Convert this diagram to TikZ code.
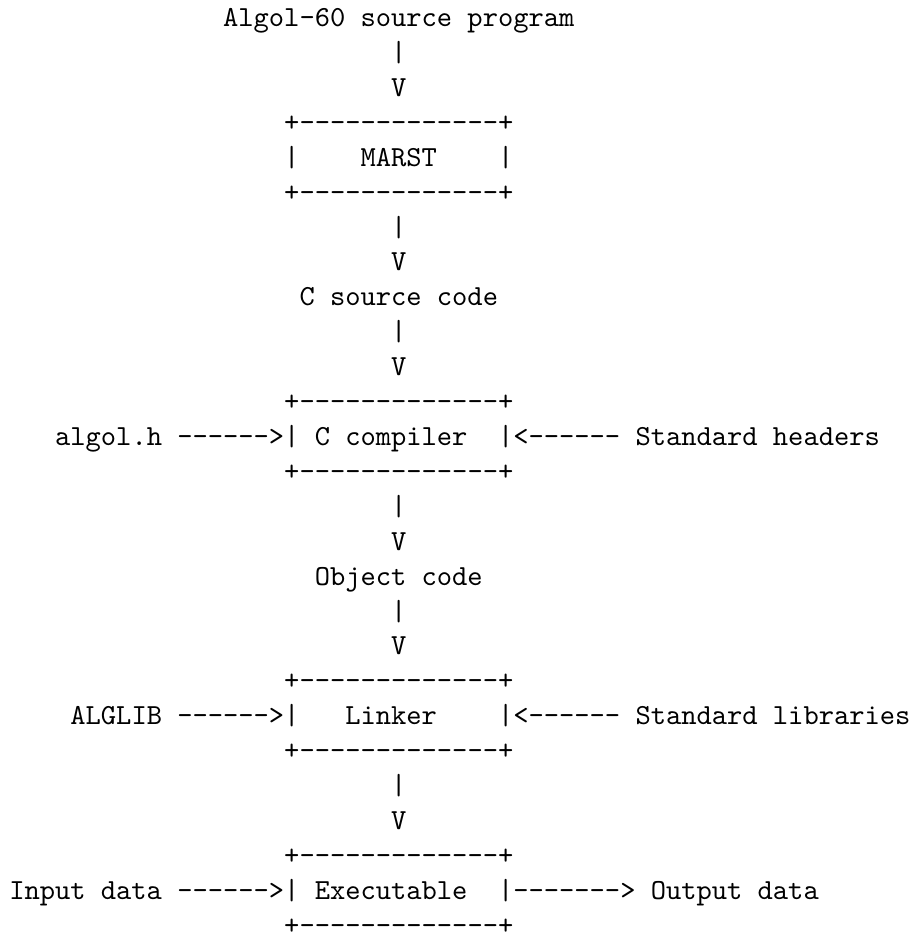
\documentclass[tikz,border=0pt]{standalone}
\begin{document}
\begin{tikzpicture}[x=5.25pt,y=12pt,
    asc/.style={font=\ttfamily, anchor=base west, inner sep=0pt, outer sep=0pt}]
  \useasboundingbox (-0.61,0.76) rectangle (59.3,-26.08);
  % top of the chain
  \node[asc] (src) at (14,0) {Algol-60 source program};
  \node[asc] (marst) at (18,-4) {|~~~~MARST~~~~|};
  \node[asc] (csrc) at (19,-8) {C source code};
  \node[asc] (obj) at (20,-16) {Object code};
  % down connectors
  \foreach \r in {1,6,9,14,17,22} {
    \node[asc] (bar\r) at (25,-\r) {|};
    \node[asc] (vee\r) at (25,-\r-1) {V};
  }
  % box edges
  \foreach \r in {3,5,11,13,19,21,24,26}
    \node[asc] (edge\r) at (18,-\r) {+-------------+};
  % compiler row
  \node[asc] (algolh) at (3,-12) {algol.h};
  \node[asc] (inh) at (11,-12) {------>};
  \node[asc] (cc) at (18,-12) {|~C~compiler~~|};
  \node[asc] (inhs) at (33,-12) {<------};
  \node[asc] (stdh) at (41,-12) {Standard headers};
  % linker row
  \node[asc] (alglib) at (4,-20) {ALGLIB};
  \node[asc] (inl) at (11,-20) {------>};
  \node[asc] (ld) at (18,-20) {|~~~Linker~~~~|};
  \node[asc] (inls) at (33,-20) {<------};
  \node[asc] (stdl) at (41,-20) {Standard libraries};
  % executable row
  \node[asc] (indata) at (0,-25) {Input data};
  \node[asc] (ine) at (11,-25) {------>};
  \node[asc] (exe) at (18,-25) {|~Executable~~|};
  \node[asc] (oute) at (33,-25) {------->};
  \node[asc] (outdata) at (42,-25) {Output data};
\end{tikzpicture}
\end{document}
